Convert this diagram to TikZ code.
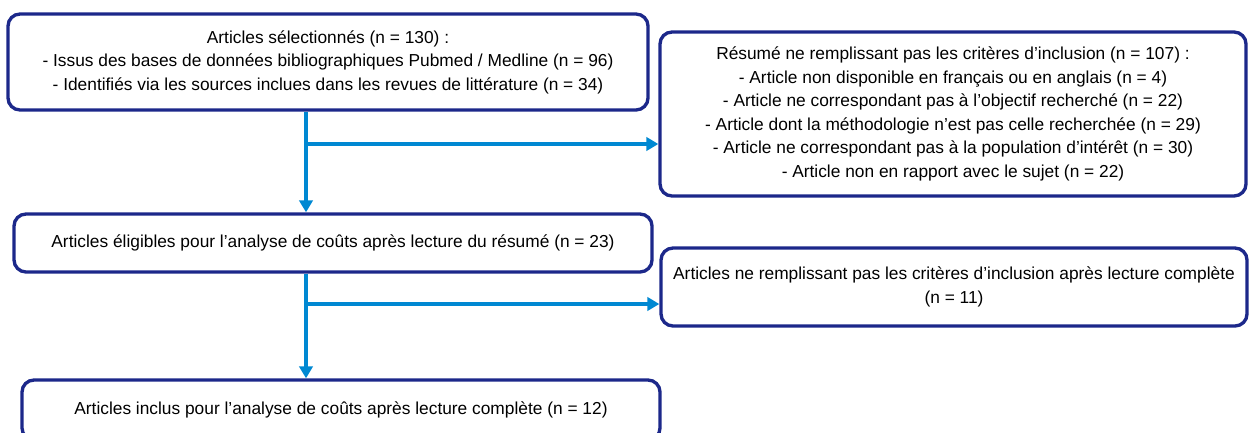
\documentclass[tikz,border=0pt]{standalone}
\usepackage{fontspec}
\setmainfont{Liberation Sans}
\usetikzlibrary{arrows.meta}
\definecolor{navy}{RGB}{28,40,138}
\definecolor{flowblue}{RGB}{0,136,210}
\begin{document}
\begin{tikzpicture}[x=0.75pt,y=0.75pt]
    \tikzset{
    box/.style={draw=navy, line width=2.5pt, rounded corners=9pt, align=center, inner sep=0pt,
                font=\fontsize{13}{17.6}\selectfont},
    flow/.style={draw=flowblue, line width=3pt, -{Triangle[length=9pt,width=10pt]}},
    }
    \useasboundingbox (0,0) rectangle (1249,-432);
    \node[box, minimum width=480pt, minimum height=72pt] (sel) at (328,-62)
        {Articles sélectionnés (n = 130) :\\
         - Issus des bases de données bibliographiques Pubmed / Medline (n = 96)\\
         - Identifiés via les sources inclues dans les revues de littérature (n = 34)};
    \node[box, minimum width=439.5pt, minimum height=123pt] (exc1) at (953,-114)
        {Résumé ne remplissant pas les critères d’inclusion (n = 107) :\\
         - Article non disponible en français ou en anglais (n = 4)\\
         - Article ne correspondant pas à l’objectif recherché (n = 22)\\
         - Article dont la méthodologie n’est pas celle recherchée (n = 29)\\
         - Article ne correspondant pas à la population d’intérêt (n = 30)\\
         - Article non en rapport avec le sujet (n = 22)};
    \node[box, minimum width=478.5pt, minimum height=43.5pt] (elig) at (333,-243)
        {Articles éligibles pour l’analyse de coûts après lecture du résumé (n = 23)};
    \node[box, minimum width=439.5pt, minimum height=58.5pt] (exc2) at (954,-287)
        {Articles ne remplissant pas les critères d’inclusion après lecture complète\\
         (n = 11)};
    \node[box, minimum width=478.5pt, minimum height=45pt] (incl) at (341,-410)
        {Articles inclus pour l’analyse de coûts après lecture complète (n = 12)};

    \coordinate (j1) at (306,-144);
    \coordinate (j2) at (306,-304);
    \draw[flow] (sel.south -| j1) -- (elig.north -| j1);
    \draw[flow] (j1) -- (exc1.west |- j1);
    \draw[flow] (elig.south -| j2) -- (incl.north -| j2);
    \draw[flow] (j2) -- (exc2.west |- j2);
\end{tikzpicture}
\end{document}
